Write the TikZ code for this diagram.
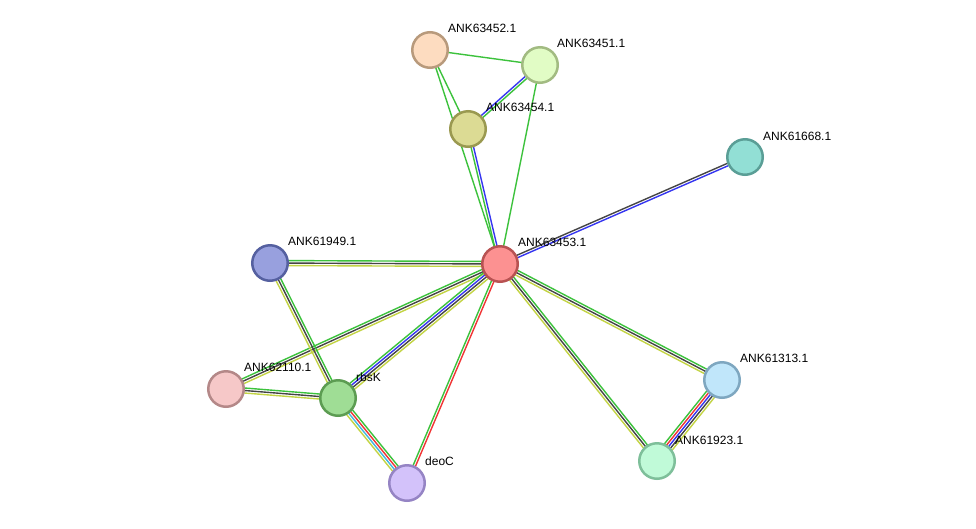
\documentclass[tikz,border=0pt]{standalone}
\usepackage{fontspec}
\setmainfont{Liberation Sans}
\usetikzlibrary{calc,backgrounds}
\definecolor{eg}{HTML}{3CC23C}
\definecolor{ek}{HTML}{454545}
\definecolor{ey}{HTML}{C3D444}
\definecolor{eb}{HTML}{3535F0}
\definecolor{er}{HTML}{F03535}
\definecolor{ec}{HTML}{40B8E0}
\definecolor{f52}{HTML}{FDDCC0}\definecolor{d52}{HTML}{B89A7C}
\definecolor{f51}{HTML}{E1FCC5}\definecolor{d51}{HTML}{A2BB82}
\definecolor{f54}{HTML}{DCDB94}\definecolor{d54}{HTML}{9A9950}
\definecolor{f68}{HTML}{92DFD5}\definecolor{d68}{HTML}{5A9E96}
\definecolor{f53}{HTML}{FC9191}\definecolor{d53}{HTML}{B85252}
\definecolor{f49}{HTML}{98A0DE}\definecolor{d49}{HTML}{5560A0}
\definecolor{f10}{HTML}{F6C8C8}\definecolor{d10}{HTML}{B48888}
\definecolor{fbk}{HTML}{9FDD95}\definecolor{dbk}{HTML}{5C9C52}
\definecolor{fdc}{HTML}{D3C2FA}\definecolor{ddc}{HTML}{9584C4}
\definecolor{f13}{HTML}{C0E6FA}\definecolor{d13}{HTML}{7EA7C0}
\definecolor{f23}{HTML}{C0FAD8}\definecolor{d23}{HTML}{7EBF9A}
\newcommand\medge[4]{%
  \foreach \cc [count=\ii] in {#4}{%
    \pgfmathsetmacro\off{(\ii-(#3+1)/2)*2.5}%
    \draw[edgeline,color=\cc] ($(#1)!\off pt!90:(#2)$) -- ($(#2)!\off pt!-90:(#1)$);
  }}
\tikzset{
  prot/.style={circle,minimum size=35.5pt,inner sep=0pt,line width=2.5pt},
  lab/.style={anchor=west,font=\fontsize{12}{14}\selectfont,inner sep=0pt},
  edgeline/.style={line width=1.4pt}
}
\begin{document}
\begin{tikzpicture}[x=1pt,y=-1pt]
\useasboundingbox (0,0) rectangle (976,528);
\node[prot,fill=f52,draw=d52] (n52) at (430,50) {};
\node[prot,fill=f51,draw=d51] (n51) at (540,65) {};
\node[prot,fill=f54,draw=d54] (n54) at (468,129) {};
\node[prot,fill=f68,draw=d68] (n68) at (745,157) {};
\node[prot,fill=f53,draw=d53] (n53) at (500,264) {};
\node[prot,fill=f49,draw=d49] (n49) at (270,263) {};
\node[prot,fill=f10,draw=d10] (n10) at (226,389) {};
\node[prot,fill=fbk,draw=dbk] (nbk) at (338,398) {};
\node[prot,fill=fdc,draw=ddc] (ndc) at (407,483) {};
\node[prot,fill=f13,draw=d13] (n13) at (722,380) {};
\node[prot,fill=f23,draw=d23] (n23) at (657,461) {};
\node[lab] (l52) at ($(n52)+(18,-22)$) {ANK63452.1};
\node[lab] (l51) at ($(n51)+(17,-22)$) {ANK63451.1};
\node[lab] (l54) at ($(n54)+(18,-22)$) {ANK63454.1};
\node[lab] (l68) at ($(n68)+(18,-21)$) {ANK61668.1};
\node[lab] (l53) at ($(n53)+(18,-22)$) {ANK63453.1};
\node[lab] (l49) at ($(n49)+(18,-22)$) {ANK61949.1};
\node[lab] (l10) at ($(n10)+(18,-22)$) {ANK62110.1};
\node[lab] (lbk) at ($(nbk)+(18,-21)$) {rbsK};
\node[lab] (ldc) at ($(ndc)+(18,-22)$) {deoC};
\node[lab] (l13) at ($(n13)+(18,-22)$) {ANK61313.1};
\node[lab] (l23) at ($(n23)+(18,-21)$) {ANK61923.1};
\begin{scope}[on background layer]
\fill[white] (0,0) rectangle (976,528);
\medge{n52}{n51}{1}{eg}
\medge{n52}{n54}{1}{eg}
\medge{n52}{n53}{1}{eg}
\medge{n51}{n54}{2}{eb,eg}
\medge{n51}{n53}{1}{eg}
\medge{n54}{n53}{2}{eg,eb}
\medge{n53}{n68}{2}{eb,ek}
\medge{n49}{n53}{3}{ey,ek,eg}
\medge{n10}{n53}{3}{ey,ek,eg}
\medge{nbk}{n53}{4}{ey,ek,eb,eg}
\medge{ndc}{n53}{2}{er,eg}
\medge{n53}{n13}{3}{ey,ek,eg}
\medge{n53}{n23}{3}{ey,ek,eg}
\medge{n49}{nbk}{3}{ey,ek,eg}
\medge{n10}{nbk}{3}{ey,ek,eg}
\medge{nbk}{ndc}{4}{ey,ec,er,eg}
\medge{n23}{n13}{5}{ey,ek,eb,er,eg}
\end{scope}
\end{tikzpicture}
\end{document}
